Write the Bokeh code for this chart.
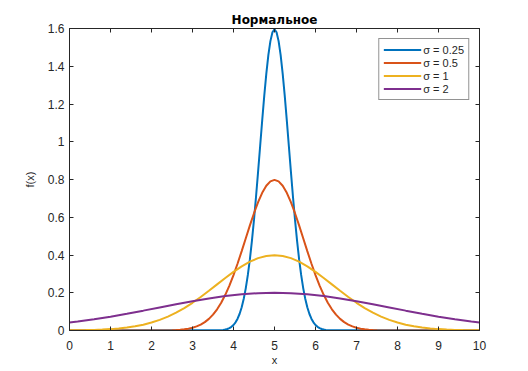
import numpy as np
from bokeh.plotting import figure
from bokeh.models import (LinearAxis, FixedTicker, NumeralTickFormatter, Legend,
                          LegendItem, Range1d)
from bokeh.embed import file_html
from bokeh.resources import INLINE

# ---- data ----
title = "Нормальное"
labels = ["σ = 0.25", "σ = 0.5", "σ = 1", "σ = 2"]
colors = ["#0072BD", "#D95319", "#EDB120", "#7E2F8E"]

x_s025 = [0.0] + list(np.round(np.linspace(3.75, 6.25, 51), 3)) + [10.0]
y_s025 = [0.0,
          0.0031, 0.0051, 0.0080, 0.0126, 0.0195, 0.0292, 0.0432, 0.0626, 0.0887, 0.1234,
          0.1682, 0.2248, 0.2944, 0.3780, 0.4759, 0.5871, 0.7100, 0.8415, 0.9776, 1.1134,
          1.2428, 1.3598, 1.4584, 1.5332, 1.5798, 1.5958, 1.5798, 1.5332, 1.4584, 1.3598,
          1.2428, 1.1134, 0.9776, 0.8415, 0.7100, 0.5871, 0.4759, 0.3780, 0.2944, 0.2248,
          0.1682, 0.1234, 0.0887, 0.0626, 0.0432, 0.0292, 0.0195, 0.0126, 0.0080, 0.0051,
          0.0031,
          0.0]

x_s05 = [0.0] + list(np.round(np.linspace(2.5, 7.5, 51), 3)) + [10.0]
y_s05 = [0.0,
         0.0015, 0.0025, 0.0040, 0.0063, 0.0097, 0.0146, 0.0216, 0.0313, 0.0444, 0.0617,
         0.0841, 0.1124, 0.1472, 0.1890, 0.2379, 0.2935, 0.3550, 0.4207, 0.4888, 0.5567,
         0.6214, 0.6799, 0.7292, 0.7666, 0.7899, 0.7979, 0.7899, 0.7666, 0.7292, 0.6799,
         0.6214, 0.5567, 0.4888, 0.4207, 0.3550, 0.2935, 0.2379, 0.1890, 0.1472, 0.1124,
         0.0841, 0.0617, 0.0444, 0.0313, 0.0216, 0.0146, 0.0097, 0.0063, 0.0040, 0.0025,
         0.0015,
         0.0]

x_s1 = list(np.round(np.linspace(0, 10, 51), 3))
y_s1 = [0.0008, 0.0013, 0.0020, 0.0032, 0.0049, 0.0073, 0.0108, 0.0156, 0.0222, 0.0308,
        0.0420, 0.0562, 0.0736, 0.0945, 0.1190, 0.1468, 0.1775, 0.2103, 0.2444, 0.2783,
        0.3107, 0.3399, 0.3646, 0.3833, 0.3949, 0.3989, 0.3949, 0.3833, 0.3646, 0.3399,
        0.3107, 0.2783, 0.2444, 0.2103, 0.1775, 0.1468, 0.1190, 0.0945, 0.0736, 0.0562,
        0.0420, 0.0308, 0.0222, 0.0156, 0.0108, 0.0073, 0.0049, 0.0032, 0.0020, 0.0013,
        0.0008]

x_s2 = [0.0, 0.2, 0.6, 1.0, 1.4, 1.8, 2.2, 2.6, 3.0, 3.4, 3.8, 4.2, 4.6, 5.0,
        5.4, 5.8, 6.2, 6.6, 7.0, 7.4, 7.8, 8.2, 8.6, 9.0, 9.4, 9.8, 10.0]
y_s2 = [0.0418, 0.0473, 0.0595, 0.0734, 0.0888, 0.1052, 0.1222, 0.1392, 0.1554, 0.1700,
        0.1823, 0.1917, 0.1975, 0.1995, 0.1975, 0.1917, 0.1823, 0.1700, 0.1554, 0.1392,
        0.1222, 0.1052, 0.0888, 0.0734, 0.0595, 0.0473, 0.0418]

x_ticks = [0, 1, 2, 3, 4, 5, 6, 7, 8, 9, 10]
y_ticks = [0, 0.2, 0.4, 0.6, 0.8, 1.0, 1.2, 1.4, 1.6]

series = [(x_s025, y_s025), (x_s05, y_s05), (x_s1, y_s1), (x_s2, y_s2)]

# ---- figure ----
FONT = "Liberation Sans"
AX = "#262626"

p = figure(width=520, height=368, x_range=Range1d(0, 10), y_range=Range1d(0, 1.6),
           output_backend="svg", toolbar_location=None,
           min_border_left=69, min_border_right=41, min_border_top=28, min_border_bottom=37)
p.title.text = title
p.title.align = "center"
p.title.text_font = "DejaVu Sans"
p.title.text_font_size = "12px"
p.title.text_font_style = "bold"
p.title.text_color = "black"
p.title.offset = 0
p.title.standoff = 4

p.xgrid.visible = False
p.ygrid.visible = False
p.outline_line_color = AX
p.outline_line_width = 1
p.background_fill_color = "white"
p.border_fill_color = "white"


def style_axis(ax, ticks, show_labels):
    ax.ticker = FixedTicker(ticks=ticks)
    ax.formatter = NumeralTickFormatter(format="0.[0]")
    ax.major_tick_in = 4
    ax.major_tick_out = 0
    ax.minor_tick_line_color = None
    ax.axis_line_color = AX
    ax.major_tick_line_color = AX
    ax.major_label_text_font = FONT
    ax.axis_label_text_font = FONT
    ax.axis_label_text_color = AX
    ax.axis_label_text_font_style = "normal"
    ax.axis_label_text_font_size = "11px"
    if show_labels:
        ax.major_label_text_color = AX
        ax.major_label_text_font_size = "12px"
        ax.major_label_standoff = 10
    else:
        ax.major_label_text_color = None
        ax.major_label_text_font_size = "1px"
        ax.major_label_standoff = 0


style_axis(p.xaxis[0], x_ticks, True)
style_axis(p.yaxis[0], y_ticks, True)
p.yaxis[0].major_label_standoff = 5
p.xaxis[0].axis_label = "x"
p.xaxis[0].axis_label_standoff = 1
p.yaxis[0].axis_label = "f(x)"
p.yaxis[0].axis_label_standoff = 9

top_ax = LinearAxis()
style_axis(top_ax, x_ticks, False)
p.add_layout(top_ax, "above")
right_ax = LinearAxis()
style_axis(right_ax, y_ticks, False)
p.add_layout(right_ax, "right")

items = []
for (xs, ys), lab, col in zip(series, labels, colors):
    r = p.line(xs, ys, line_color=col, line_width=2)
    items.append(LegendItem(label=lab, renderers=[r]))

legend = Legend(items=items, location="top_right")
legend.border_line_color = AX
legend.border_line_width = 1
legend.background_fill_color = "white"
legend.background_fill_alpha = 1
legend.label_text_font = FONT
legend.label_text_font_size = "11px"
legend.label_text_color = AX
legend.glyph_width = 38
legend.glyph_height = 13
legend.label_height = 13
legend.label_standoff = 2
legend.spacing = 0
legend.padding = 4
legend.margin = 10
p.add_layout(legend)

open("out.html", "w").write(file_html(p, INLINE))
